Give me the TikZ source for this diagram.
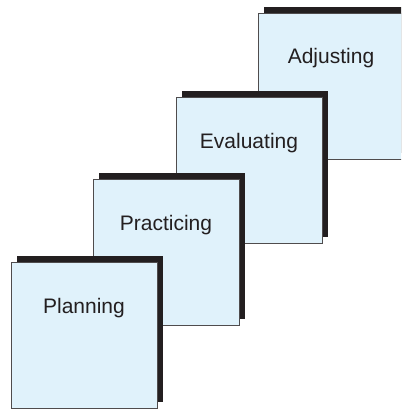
\documentclass[tikz,border=0pt]{standalone}
\usepackage{fontspec}
\setmainfont{Liberation Sans}
\usepackage{xcolor}
\usetikzlibrary{shadows}
\definecolor{stepfill}{RGB}{224,242,251}
\definecolor{stepink}{RGB}{35,31,32}

\begin{document}
\begin{tikzpicture}[
  x=1pt, y=-1pt,
  box/.style={draw=stepink!80, line width=0.8pt, fill=stepfill,
    minimum width=146pt, inner xsep=0pt, inner ysep=0pt,
    text height=51pt, text depth=95pt, text=stepink,
    font=\fontsize{21}{25}\selectfont,
    general shadow={fill=stepink, shadow xshift=6pt, shadow yshift=6pt}}
]
  \clip (0,0) rectangle (401,409);
  % back to front
  \node[box] (adjust) at (331,86) {Adjusting};
  \node[box] (eval) at (249,170) {Evaluating};
  \node[box] (pract) at (166,252) {Practicing};
  \node[box] (plan) at (84,335) {Planning};
\end{tikzpicture}
\end{document}
